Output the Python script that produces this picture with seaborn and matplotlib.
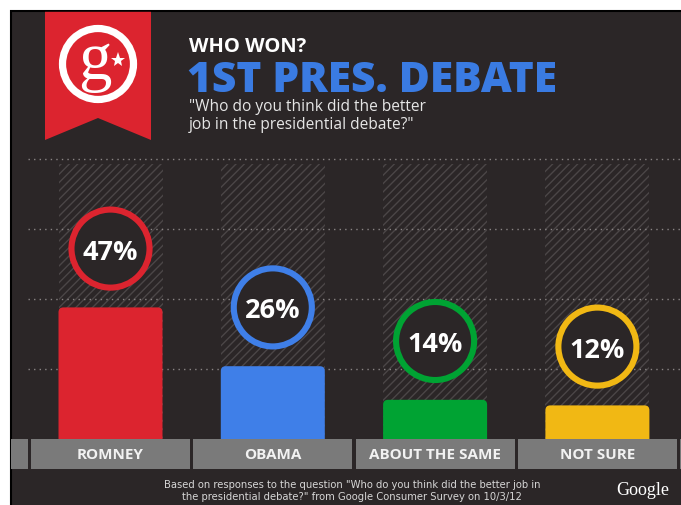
import numpy as np
import pandas as pd
import matplotlib
matplotlib.use("Agg")
import matplotlib.pyplot as plt
from matplotlib.patches import Rectangle, Polygon, Circle, FancyBboxPatch
import seaborn as sns

# Survey results
categories = ["ROMNEY", "OBAMA", "ABOUT THE SAME", "NOT SURE"]
percents = [47, 26, 14, 12]
bar_colors = ["#dc242f", "#3f7fe8", "#00a333", "#f1b814"]
grid_levels = [25, 50, 75, 100]

title_small = "WHO WON?"
title_big = "1ST PRES. DEBATE"
question = "\"Who do you think did the better\njob in the presidential debate?\""
footnote = ("Based on responses to the question \"Who do you think did the better job in\n"
            "the presidential debate?\" from Google Consumer Survey on 10/3/12")

DARK = "#2b2627"
W, H = 681, 506

sns.set_theme(style="white")
plt.rcParams["font.family"] = ["Open Sans", "DejaVu Sans"]
plt.rcParams["hatch.linewidth"] = 1.0

fig = plt.figure(figsize=(W / 100, H / 100), dpi=100, facecolor="white")

# Background layer in pixel coordinates
bg = fig.add_axes([0, 0, 1, 1])
bg.set_xlim(0, W)
bg.set_ylim(H, 0)
bg.axis("off")
bg.add_patch(Rectangle((11, 12), W - 11 + 5, H - 12 + 5, facecolor=DARK,
                       edgecolor="black", linewidth=1.5))

# Ribbon badge with logo
bg.add_patch(Polygon([(45, 12.8), (151, 12.8), (151, 141), (98, 119), (45, 141)],
                     closed=True, facecolor="#dc242f", edgecolor="none"))
bg.add_patch(Circle((98, 65), 35.5, facecolor="none", edgecolor="white", linewidth=5.2))
bg.text(95, 62, "g", color="white", fontsize=48, family="Liberation Serif",
        ha="center", va="center")
bg.plot([118], [61], marker="*", color="white", markersize=11, markeredgewidth=0)

# Titles
bg.text(189, 52, title_small, color="white", fontsize=14.5, fontweight="bold",
        ha="left", va="baseline")
bg.text(187, 92, title_big, color="#3a7be2", fontsize=30.6, fontweight="heavy",
        ha="left", va="baseline")
bg.text(189, 99, question, color="#e6e6e6", fontsize=11.2, ha="left", va="top",
        linespacing=1.2)

# Footnote and brand
bg.text(352, 491, footnote, color="#d6d6d6", fontsize=8.0,
        family="DejaVu Sans", fontstretch="condensed", ha="center", va="center",
        linespacing=1.2)
bg.text(643, 491, "Google", color="white", fontsize=13, family="Liberation Serif",
        ha="center", va="center")

# Chart layer: x pixel = X0 + STEP * i, y pixel = BASE - SCALE * value
X0, STEP, BASE, SCALE = 110.5, 162.3, 440.0, 2.8
left_px, top_px = 11, 12
ax = fig.add_axes([left_px / W, 0, (W - left_px) / W, (H - top_px) / H])
ax.patch.set_alpha(0)

df = pd.DataFrame({"answer": categories, "pct": percents})
bar_w = 104 / STEP
sns.barplot(data=df, x="answer", y="pct", hue="answer", palette=bar_colors,
            saturation=1, width=bar_w, legend=False, ax=ax, zorder=3)

# Swap plain bars for bars with rounded tops
aspect = (1 / SCALE) / (1 / STEP)
for p in list(ax.patches):
    x, w, h = p.get_x(), p.get_width(), p.get_height()
    fc = p.get_facecolor()
    p.remove()
    ax.add_patch(FancyBboxPatch((x, -3), w, h + 3,
                                boxstyle="round,pad=0,rounding_size=0.03",
                                mutation_aspect=aspect, facecolor=fc,
                                edgecolor="none", zorder=3))

ax.set_xlim((left_px - X0) / STEP, (W - X0) / STEP)
ax.set_ylim(-(H - BASE) / SCALE, (BASE - top_px) / SCALE)

# Hatched column backdrops
xs = np.arange(len(categories))
ax.bar(xs, [98.2] * len(xs), width=bar_w, facecolor="none", edgecolor="#4b4647",
       linewidth=0, hatch="////", zorder=1)

# Dotted guide lines
for g in grid_levels:
    ax.plot([(28 - X0) / STEP, (W - X0) / STEP], [g, g], color="#8a8585",
            linestyle=(0, (1, 3)), linewidth=1.0, zorder=2)

# Percentage rings
offset = 21
ax.scatter(xs, [v + offset for v in percents], s=56.2 ** 2, facecolor=DARK,
           edgecolor=bar_colors, linewidth=4.4, zorder=4)
for i, v in enumerate(percents):
    ax.text(i, v + offset, f"{v}%", color="white", fontsize=19.5, fontweight="bold",
            ha="center", va="center_baseline", zorder=5)

# Category label strip
strip_h = 30 / SCALE
for i in range(-1, len(categories) + 1):
    ax.add_patch(Rectangle((i - 0.49, -strip_h), 0.98, strip_h,
                           facecolor="#7a7a7a", edgecolor="none", zorder=6))
for i, c in enumerate(categories):
    ax.text(i, -strip_h / 2, c, color="#f2f2f2", fontsize=11, fontweight="bold",
            ha="center", va="center", zorder=7)

ax.set_xlabel("")
ax.set_ylabel("")
ax.set_xticks([])
ax.set_yticks([])
for s in ax.spines.values():
    s.set_visible(False)

fig.savefig("out.png", dpi=100, facecolor="white")
